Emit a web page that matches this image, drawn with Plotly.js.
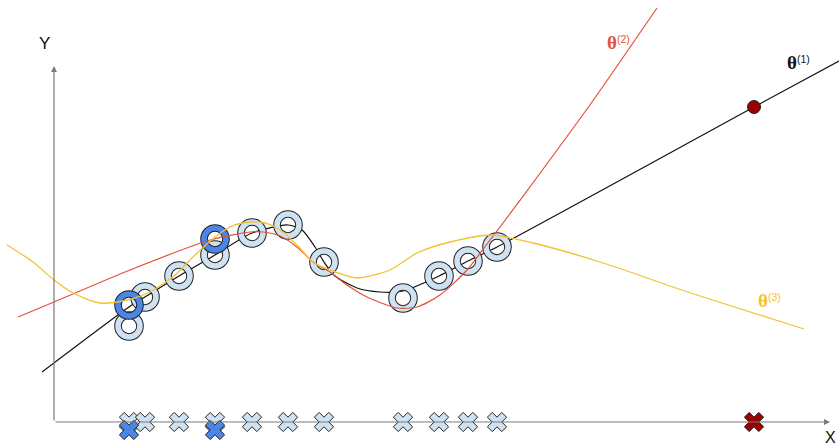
<!DOCTYPE html>
<html>
<head>
<meta charset="utf-8">
<script src="https://cdn.plot.ly/plotly-3.0.1.min.js"></script>
<style>
  html, body { margin: 0; padding: 0; background: #ffffff; }
  #chart { width: 839px; height: 448px; }
</style>
</head>
<body>
<div id="chart"></div>
<script>
// Observed samples (x along the X axis, y along the Y axis, origin at the axes corner)
const sampleX = [75, 75, 91, 125, 161, 161, 198, 234, 270, 349, 385, 414, 443];
const sampleY = [96, 117, 125, 146, 167, 183, 189, 197, 160, 124, 146, 161, 175];
const highlighted = [false, true, false, false, false, true, false, false, false, false, false, false, false];

// Query point (predicted on the theta(1) line)
const queryX = [700];
const queryY = [315];

// Fitted curve theta(1): piecewise fit through the samples, then a straight tail
const theta1X = [-12, 75, 91, 125, 161, 198, 234, 248, 261, 270, 281, 303, 326, 349, 385, 414, 443, 700, 785];
const theta1Y = [50, 115, 125, 146, 167, 189, 197, 192, 175, 160, 146, 134, 130, 131, 146, 161, 175, 315, 361];

// Fitted curve theta(2)
const theta2X = [-36, 0, 76, 156, 196, 209, 226, 243, 259, 276, 293, 313, 343, 363, 386, 413, 433, 449, 484, 538, 603];
const theta2Y = [105, 120, 152, 182, 190, 190, 186, 175, 160, 150, 137, 125, 114, 115, 127, 152, 178, 199, 246, 320, 414];

// Fitted curve theta(3)
const theta3X = [-47, -21, 0, 19, 46, 73, 96, 121, 141, 161, 178, 196, 211, 226, 243, 259, 276, 303, 336, 363, 396, 438, 479, 513, 546, 579, 613, 646, 750];
const theta3Y = [177, 160, 142, 129, 119, 122, 130, 147, 167, 185, 196, 200, 199, 192, 177, 160, 152, 144, 152, 169, 180, 187, 179, 170, 160, 149, 137, 126, 93];

const labels = {
  y: 'Y',
  x: 'X',
  t1: '(1)',
  t2: '(2)',
  t3: '(3)'
};

const LIGHT = '#cfe2f3';
const DARK_BLUE = '#4a86e8';
const DARK_RED = '#990000';
const RED = '#e0533a';
const GOLD = '#f1c232';
const AXIS = '#7a7a7a';

function pick(arr, flag) { return arr.filter((_, i) => highlighted[i] === flag); }

// Donut markers: a wide black open circle under a slightly narrower coloured one
function ringTraces(xs, ys, color) {
  const base = { type: 'scatter', mode: 'markers', x: xs, y: ys, hoverinfo: 'skip' };
  return [
    Object.assign({}, base, { marker: { symbol: 'circle-open', size: 22, color: '#222', line: { width: 7.6, color: '#222' } } }),
    Object.assign({}, base, { marker: { symbol: 'circle-open', size: 22, color: color, line: { width: 5.6, color: color } } })
  ];
}

const traces = [];
traces.push({ type: 'scatter', mode: 'lines', x: theta1X, y: theta1Y,
  line: { color: '#111', width: 1.2, shape: 'spline', smoothing: 0.7 }, hoverinfo: 'skip' });
traces.push(...ringTraces(pick(sampleX, false), pick(sampleY, false), LIGHT));
traces.push(...ringTraces(pick(sampleX, true), pick(sampleY, true), DARK_BLUE));
traces.push({ type: 'scatter', mode: 'lines', x: theta2X, y: theta2Y,
  line: { color: RED, width: 1.2, shape: 'spline', smoothing: 0.7 }, hoverinfo: 'skip' });
traces.push({ type: 'scatter', mode: 'lines', x: theta3X, y: theta3Y,
  line: { color: GOLD, width: 1.3, shape: 'spline', smoothing: 0.7 }, hoverinfo: 'skip' });

// Projections of the samples onto the X axis
traces.push({ type: 'scatter', mode: 'markers', x: pick(sampleX, false), y: pick(sampleX, false).map(() => 0),
  marker: { symbol: 'x', size: 17, color: LIGHT, line: { width: 1, color: '#222' } }, hoverinfo: 'skip' });
traces.push({ type: 'scatter', mode: 'markers', x: pick(sampleX, true), y: pick(sampleX, true).map(() => -8),
  marker: { symbol: 'x', size: 17, color: DARK_BLUE, line: { width: 1, color: '#222' } }, hoverinfo: 'skip' });
traces.push({ type: 'scatter', mode: 'markers', x: queryX, y: queryX.map(() => 0),
  marker: { symbol: 'x', size: 17, color: DARK_RED, line: { width: 1, color: '#222' } }, hoverinfo: 'skip' });
traces.push({ type: 'scatter', mode: 'markers', x: queryX, y: queryY,
  marker: { symbol: 'circle', size: 13, color: DARK_RED, line: { width: 1, color: '#222' } }, hoverinfo: 'skip' });

function thetaLabel(sup) {
  return '<span style="font-family:\'Liberation Serif\',serif;font-size:19px"><b>θ</b></span><sup>' + sup + '</sup>';
}

const annotations = [
  // axes with arrow heads
  { x: 0, y: 356, ax: 0, ay: 0, xref: 'x', yref: 'y', axref: 'x', ayref: 'y', text: '',
    showarrow: true, arrowhead: 2, arrowsize: 1, arrowwidth: 1.2, arrowcolor: AXIS },
  { x: 776, y: 0, ax: 0, ay: 0, xref: 'x', yref: 'y', axref: 'x', ayref: 'y', text: '',
    showarrow: true, arrowhead: 2, arrowsize: 1, arrowwidth: 1.2, arrowcolor: AXIS },
  { x: -10, y: 379, xref: 'x', yref: 'y', text: labels.y, showarrow: false,
    font: { family: 'Liberation Sans, Arial, sans-serif', size: 17, color: '#111' } },
  { x: 776, y: -15, xref: 'x', yref: 'y', text: labels.x, showarrow: false,
    font: { family: 'Liberation Sans, Arial, sans-serif', size: 16, color: '#111' } },
  { x: 744, y: 360, xref: 'x', yref: 'y', text: thetaLabel(labels.t1), showarrow: false,
    font: { family: 'Liberation Sans, Arial, sans-serif', size: 15, color: '#111' } },
  { x: 564, y: 380, xref: 'x', yref: 'y', text: thetaLabel(labels.t2), showarrow: false,
    font: { family: 'Liberation Sans, Arial, sans-serif', size: 15, color: RED } },
  { x: 715, y: 122, xref: 'x', yref: 'y', text: thetaLabel(labels.t3), showarrow: false,
    font: { family: 'Liberation Sans, Arial, sans-serif', size: 15, color: GOLD } }
];

const layout = {
  width: 839,
  height: 448,
  margin: { l: 0, r: 0, t: 0, b: 0 },
  paper_bgcolor: '#ffffff',
  plot_bgcolor: '#ffffff',
  showlegend: false,
  xaxis: { range: [-54, 785], visible: false, fixedrange: true },
  yaxis: { range: [-26, 422], visible: false, fixedrange: true },
  annotations: annotations
};

Plotly.newPlot('chart', traces, layout, { displayModeBar: false, staticPlot: true });
</script>
</body>
</html>
